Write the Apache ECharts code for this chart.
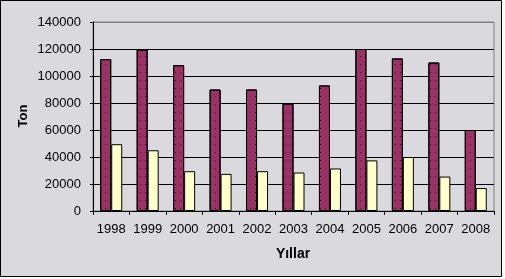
<!DOCTYPE html>
<html><head><meta charset="utf-8">
<script src="https://cdn.jsdelivr.net/npm/echarts@6/dist/echarts.min.js"></script>
<style>html,body{margin:0;padding:0;background:#fff}#c{width:505px;height:279px}</style>
</head><body><div id="c"></div>
<script>
const years = ['1998','1999','2000','2001','2002','2003','2004','2005','2006','2007','2008'];
const seriesA = [112500, 119500, 108000, 90000, 90000, 79500, 93000, 120000, 113000, 110000, 60000];
const seriesB = [49500, 45000, 29500, 27500, 29500, 28500, 31500, 37500, 40000, 25500, 17000];
const yTicks = [0, 20000, 40000, 60000, 80000, 100000, 120000, 140000];
const xTitle = 'Yıllar';
const yTitle = 'Ton';

const font = 'Arial, "Liberation Sans", sans-serif';
const chart = echarts.init(document.getElementById('c'), null, {renderer: 'canvas'});
chart.setOption({
  backgroundColor: '#ffffff',
  animation: false,
  grid: {left: 93, right: 11, top: 22, bottom: 68, show: true, borderColor: '#808080', borderWidth: 1, backgroundColor: 'transparent'},
  xAxis: {
    type: 'category', data: years,
    axisLine: {lineStyle: {color: '#000', width: 1}},
    axisTick: {show: true, length: 4, interval: 0, lineStyle: {color: '#000'}},
    axisLabel: {color: '#000', fontFamily: font, fontSize: 13, margin: 12, interval: 0}
  },
  yAxis: {
    type: 'value', min: yTicks[0], max: yTicks[yTicks.length - 1], interval: yTicks[1] - yTicks[0],
    axisLine: {show: true, lineStyle: {color: '#000', width: 1}},
    axisTick: {show: true, length: 3, lineStyle: {color: '#000'}},
    axisLabel: {color: '#000', fontFamily: font, fontSize: 13, margin: 12, formatter: v => String(v)},
    splitLine: {show: true, lineStyle: {color: ['#000','#000','#000','#000','#000','#000','#000','#808080'], width: 1}}
  },
  series: [
    {type: 'bar', data: seriesA, barWidth: 11, barGap: '0%',
     itemStyle: {color: '#993366', borderColor: '#000', borderWidth: 1,
       decal: {symbol: 'rect', symbolSize: 1, dashArrayX: [1, 4], dashArrayY: [1, 7], color: 'rgba(30,0,15,0.8)'}}},
    {type: 'bar', data: seriesB, barWidth: 11,
     itemStyle: {color: '#ffffcc', borderColor: '#000', borderWidth: 1}}
  ],
  graphic: [
    {type: 'rect', z: -100, silent: true, shape: {x: 0, y: 0, width: 502, height: 277}, style: {fill: '#d9d9de'}},
    {type: 'text', x: 23, y: 116, rotation: Math.PI / 2,
     style: {text: yTitle, font: 'bold 13px ' + font, fill: '#000', align: 'center', verticalAlign: 'middle'}},
    {type: 'text', x: 293, y: 254,
     style: {text: xTitle, font: 'bold 14px ' + font, fill: '#000', align: 'center', verticalAlign: 'middle'}},
    {type: 'rect', silent: true, shape: {x: 0.5, y: 0.5, width: 501, height: 276}, style: {fill: 'none', stroke: '#000', lineWidth: 1}}
  ]
});
</script></body></html>
